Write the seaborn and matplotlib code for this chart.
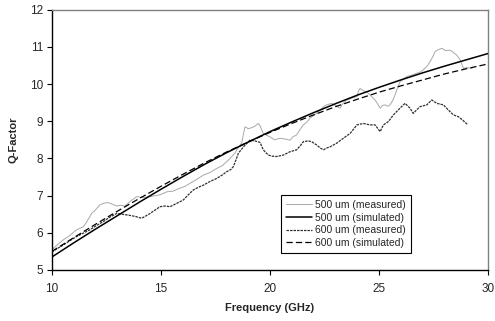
import numpy as np
import pandas as pd
import matplotlib
matplotlib.use("Agg")
import matplotlib.pyplot as plt
import seaborn as sns

# Simulated curves (read at each GHz)
freq_sim = [10, 11, 12, 13, 14, 15, 16, 17, 18, 19, 20, 21, 22, 23, 24, 25, 26, 27, 28, 29, 30]
q_500_sim = [5.35, 5.73, 6.10, 6.46, 6.82, 7.17, 7.51, 7.84, 8.15, 8.44, 8.72,
             8.98, 9.23, 9.47, 9.70, 9.91, 10.11, 10.30, 10.48, 10.65, 10.82]
q_600_sim = [5.50, 5.87, 6.23, 6.58, 6.92, 7.25, 7.57, 7.88, 8.17, 8.44, 8.70,
             8.94, 9.17, 9.39, 9.59, 9.78, 9.95, 10.11, 10.27, 10.41, 10.54]

# 500 um measured (light gray trace)
freq_500_meas = [10.0, 10.25, 10.52, 10.8, 11.13, 11.44, 11.6, 11.82, 12.0, 12.2, 12.4, 12.58,
                 12.8, 12.97, 13.15, 13.35, 13.6, 13.88, 14.2, 14.5, 14.75, 14.95, 15.26,
                 15.55, 15.87, 16.1, 16.33, 16.6, 16.94, 17.25, 17.55, 17.8, 18.01, 18.2,
                 18.39, 18.55, 18.7, 18.78, 18.85, 19.0, 19.08, 19.3, 19.46, 19.54, 19.69,
                 19.85, 20.0, 20.2, 20.46, 20.7, 20.92, 21.05, 21.22, 21.38, 21.53, 21.7,
                 21.83, 22.0, 22.14, 22.3, 22.45, 22.6, 22.83, 23.0, 23.21, 23.35, 23.52,
                 23.75, 23.98, 24.05, 24.13, 24.28, 24.43, 24.6, 24.82, 24.95, 25.05, 25.15,
                 25.28, 25.4, 25.5, 25.62, 25.73, 25.85, 25.96, 26.1, 26.27, 26.5, 26.73,
                 26.88, 27.03, 27.2, 27.34, 27.45, 27.57, 27.7, 27.88, 28.05, 28.26, 28.4,
                 28.56, 28.72, 28.87, 29.04, 29.27]
q_500_meas = [5.54, 5.68, 5.81, 5.92, 6.08, 6.16, 6.30, 6.52, 6.62, 6.75, 6.80, 6.81,
              6.76, 6.72, 6.74, 6.72, 6.85, 6.97, 6.95, 6.97, 7.00, 7.02, 7.10,
              7.12, 7.20, 7.25, 7.33, 7.42, 7.55, 7.62, 7.73, 7.80, 7.91, 8.02,
              8.14, 8.30, 8.41, 8.65, 8.85, 8.80, 8.81, 8.86, 8.94, 8.88, 8.67,
              8.62, 8.58, 8.50, 8.54, 8.52, 8.49, 8.58, 8.63, 8.78, 8.90, 8.98,
              9.08, 9.15, 9.21, 9.30, 9.39, 9.44, 9.48, 9.42, 9.35, 9.48, 9.57,
              9.62, 9.66, 9.80, 9.88, 9.82, 9.79, 9.70, 9.57, 9.45, 9.35, 9.42,
              9.44, 9.40, 9.44, 9.55, 9.70, 9.90, 10.06, 10.12, 10.20, 10.24, 10.29,
              10.32, 10.38, 10.48, 10.60, 10.72, 10.87, 10.92, 10.96, 10.90, 10.91, 10.85,
              10.78, 10.65, 10.42, 10.44, 10.42]

# 600 um measured (dark trace)
freq_600_meas = [10.0, 10.25, 10.52, 10.8, 11.13, 11.4, 11.74, 12.0, 12.35, 12.65, 12.97,
                 13.2, 13.43, 13.65, 13.88, 14.11, 14.3, 14.5, 14.75, 14.95, 15.2, 15.41,
                 15.72, 16.02, 16.25, 16.48, 16.7, 16.94, 17.25, 17.55, 17.8, 18.01, 18.2,
                 18.32, 18.45, 18.55, 18.78, 19.08, 19.3, 19.54, 19.69, 19.92, 20.1, 20.31,
                 20.61, 20.92, 21.22, 21.4, 21.53, 21.75, 21.91, 22.14, 22.3, 22.45, 22.6,
                 22.75, 23.06, 23.36, 23.67, 23.85, 23.98, 24.28, 24.59, 24.82, 25.05, 25.2,
                 25.43, 25.66, 25.96, 26.19, 26.42, 26.57, 26.75, 26.88, 27.19, 27.42, 27.65,
                 27.95, 28.18, 28.41, 28.64, 28.85, 29.04]
q_600_meas = [5.48, 5.58, 5.67, 5.78, 5.90, 5.98, 6.08, 6.18, 6.30, 6.42, 6.52,
              6.50, 6.48, 6.46, 6.43, 6.39, 6.45, 6.52, 6.62, 6.70, 6.72, 6.70,
              6.79, 6.88, 7.02, 7.15, 7.22, 7.28, 7.38, 7.46, 7.55, 7.64, 7.70,
              7.78, 7.98, 8.14, 8.31, 8.49, 8.47, 8.43, 8.23, 8.09, 8.06, 8.05,
              8.09, 8.18, 8.23, 8.35, 8.45, 8.47, 8.45, 8.36, 8.28, 8.23, 8.28,
              8.31, 8.41, 8.54, 8.67, 8.80, 8.90, 8.94, 8.90, 8.90, 8.72, 8.90,
              8.99, 9.17, 9.35, 9.48, 9.35, 9.21, 9.32, 9.39, 9.44, 9.57, 9.48,
              9.44, 9.30, 9.17, 9.12, 9.02, 8.92]

sns.set_style("ticks")
plt.rcParams["font.family"] = ["Liberation Sans", "DejaVu Sans"]

fig = plt.figure(figsize=(4.95, 3.21), dpi=100)
ax = fig.add_axes([0.105, 0.159, 0.881, 0.811])

sns.lineplot(x=freq_500_meas, y=q_500_meas, ax=ax, color="#a8a8a8", lw=0.7,
             label="500 um (measured)", zorder=2)
sns.lineplot(x=freq_sim, y=q_500_sim, ax=ax, color="black", lw=1.1,
             label="500 um (simulated)", zorder=4)
sns.lineplot(x=freq_600_meas, y=q_600_meas, ax=ax, color="#303030", lw=0.9,
             linestyle=(0, (2, 0.8)), label="600 um (measured)", zorder=3)
sns.lineplot(x=freq_sim, y=q_600_sim, ax=ax, color="black", lw=0.9,
             linestyle=(0, (5, 2.5)), label="600 um (simulated)", zorder=4)

ax.set_xlim(10, 30)
ax.set_ylim(5, 12)
ax.set_xticks([10, 15, 20, 25, 30])
ax.set_yticks(range(5, 13))
ax.tick_params(axis="both", labelsize=8.5, length=3.5, width=0.8, color="black", pad=3)
ax.tick_params(axis="x", pad=6)
ax.set_xlabel("Frequency (GHz)", fontsize=8, fontweight="bold", labelpad=6)
ax.set_ylabel("Q-Factor", fontsize=8, fontweight="bold", labelpad=8)

for side in ["left", "bottom"]:
    ax.spines[side].set_color("black")
    ax.spines[side].set_linewidth(1.0)
for side in ["top", "right"]:
    ax.spines[side].set_visible(True)
    ax.spines[side].set_color("#808080")
    ax.spines[side].set_linewidth(1.0)

leg = ax.legend(loc="lower left", bbox_to_anchor=(0.525, 0.065), fontsize=7.5,
                frameon=True, fancybox=False, handlelength=2.5, handletextpad=0.25,
                labelspacing=0.25, borderpad=0.5, borderaxespad=0)
leg.get_frame().set_edgecolor("black")
leg.get_frame().set_linewidth(0.8)
leg.get_frame().set_alpha(1)

fig.savefig("out.png", dpi=100)
